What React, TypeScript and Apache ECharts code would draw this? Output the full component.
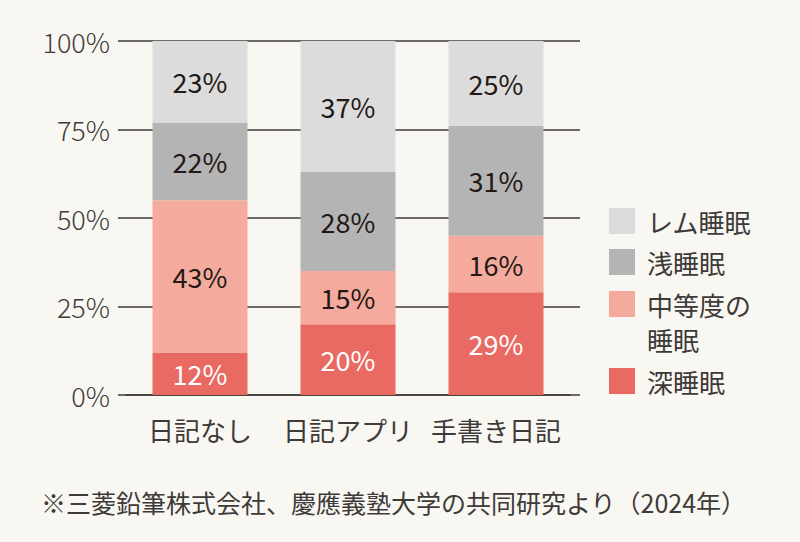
import React, { useEffect, useRef } from "react";
import * as echarts from "echarts";

const categories = ["日記なし", "日記アプリ", "手書き日記"];
const deepSleep = [12, 20, 29];
const moderateSleep = [43, 15, 16];
const lightSleep = [22, 28, 31];
const remSleep = [23, 37, 25];
const yTicks = [0, 25, 50, 75, 100];
const seriesNames = ["深睡眠", "中等度の睡眠", "浅睡眠", "レム睡眠"];
const footnote = "※三菱鉛筆株式会社、慶應義塾大学の共同研究より（2024年）";

const FONT = "'Noto Sans CJK JP', 'Noto Sans', sans-serif";
const colors = ["#e96a62", "#f4ab9d", "#b4b4b4", "#dcdcdc"];

export default function App() {
  const ref = useRef<HTMLDivElement>(null);
  useEffect(() => {
    if (!ref.current) return;
    const chart = echarts.init(ref.current, null, { renderer: "svg" });
    const dataSets = [deepSleep, moderateSleep, lightSleep, remSleep];
    const series = seriesNames.map((name, i) => ({
      name,
      type: "bar",
      stack: "total",
      barWidth: 95,
      clip: true,
      itemStyle: { color: colors[i] },
      label: {
        show: true,
        position: "inside",
        formatter: (p: any) => p.value + "%",
        color: i === 0 ? "#ffffff" : "#231815",
        fontSize: 27,
        fontFamily: FONT,
      },
      data: dataSets[i],
    }));
    const legendTops = [208, 249, 291, 368];
    const legendOrder = [3, 2, 1, 0];
    const legends = legendOrder.map((si, k) => {
      const name = seriesNames[si];
      const twoLine = si === 1;
      return {
        left: 609,
        top: twoLine ? legendTops[k] - 39.5 : legendTops[k],
        itemWidth: 26,
        itemHeight: 26,
        itemGap: 15,
        icon: "rect",
        selectedMode: false,
        padding: 0,
        formatter: (n: string) => (n === "中等度の睡眠" ? "\n中等度の\n睡眠" : n),
        textStyle: {
          fontSize: 26,
          fontFamily: FONT,
          color: "#3e3a39",
          lineHeight: twoLine ? 35 : 26,
          padding: [0, 0, 0, 7],
        },
        data: [{ name, itemStyle: { color: colors[si] } }],
      };
    });
    const option: any = {
      animation: false,
      backgroundColor: "#f9f7f1",
      title: {
        text: footnote,
        left: 41,
        top: 489,
        padding: 0,
        textStyle: { fontSize: 25, fontWeight: "normal", color: "#3e3a39", fontFamily: FONT },
      },
      legend: legends,
      grid: { left: 126, right: 230, top: 41, bottom: 147 },
      xAxis: {
        type: "category",
        data: categories,
        axisLine: { show: true, lineStyle: { color: "#3e3a39", width: 1.5 } },
        axisTick: { show: false },
        axisLabel: { interval: 0, fontSize: 26, color: "#3e3a39", fontFamily: FONT, margin: 21 },
      },
      yAxis: [
        {
          type: "value",
          min: 0,
          max: 100,
          interval: 25,
          axisLine: { show: false },
          axisTick: { show: true, length: 8, lineStyle: { color: "#3e3a39", width: 1.5 } },
          splitLine: { show: true, lineStyle: { color: "#3e3a39", width: 1.5 } },
          axisLabel: {
            fontSize: 27,
            fontWeight: 300,
            color: "#3e3a39",
            fontFamily: FONT,
            margin: 16,
            formatter: (v: number) => (yTicks.includes(v) ? v + "%" : ""),
          },
        },
        {
          type: "value",
          position: "right",
          min: 0,
          max: 100,
          interval: 25,
          axisLine: { show: false },
          axisTick: { show: true, length: 10, lineStyle: { color: "#3e3a39", width: 1.5 } },
          splitLine: { show: false },
          axisLabel: { show: false },
        },
      ],
      series,
    };
    chart.setOption(option);
    return () => chart.dispose();
  }, []);
  return (
    <div
      ref={ref}
      style={{ position: "absolute", left: 0, top: 0, width: 800, height: 542 }}
    />
  );
}
